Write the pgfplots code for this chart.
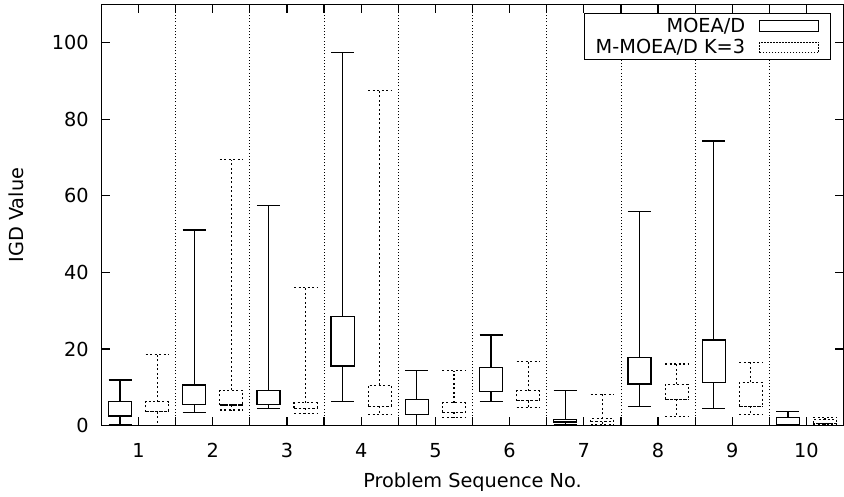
\documentclass[border=0pt]{standalone}
\usepackage{pgfplots}
\pgfplotsset{compat=1.18}
\usepgfplotslibrary{statistics}
\usepackage{fontspec}
\setmainfont{DejaVu Sans}
\newcommand{\fs}{\fontsize{19.3pt}{23pt}\selectfont}
\newcommand{\boxA}[5]{\addplot[forget plot, black, solid, line width=1.3pt, boxplot prepared={draw position=#1, lower whisker=#2, lower quartile=#3, median=#3, upper quartile=#4, upper whisker=#5, box extend=0.62, whisker extend=0.62}] coordinates {};}
\newcommand{\boxB}[5]{\addplot[forget plot, black, line width=1.1pt, dash pattern=on 2pt off 2.5pt, boxplot prepared={draw position=#1, lower whisker=#2, lower quartile=#3, median=#3, upper quartile=#4, upper whisker=#5, box extend=0.62, whisker extend=0.62}] coordinates {};}
\begin{document}
\begin{tikzpicture}
\begin{axis}[
  scale only axis, width=742pt, height=421.3pt,
  xmin=0, xmax=20, ymin=0, ymax=110,
  boxplot/draw direction=y,
  xtick={1,3,...,19}, xticklabels={1,2,3,4,5,6,7,8,9,10},
  minor xtick={2,4,...,18},
  ytick={0,20,...,100},
  major tick length=9pt, minor tick length=9pt,
  tick align=inside,
  tick style={black, line width=1.2pt},
  minor tick style={black, line width=1.2pt},
  axis line style={black, line width=1.3pt},
  xminorgrids=true,
  minor x grid style={black, line width=0.8pt, dash pattern=on 1pt off 2.2pt},
  /pgf/number format/assume math mode=true,
  tick label style={font=\fs},
  xticklabel style={inner sep=0pt, yshift=-17.6pt},
  yticklabel style={inner sep=0pt, xshift=-12.7pt},
  xlabel={Problem Sequence No.},
  ylabel={IGD Value},
  label style={font=\fs},
  xlabel style={at={(axis description cs:0.5,0)}, anchor=north, inner sep=0pt, yshift=-47.4pt},
  ylabel style={at={(axis description cs:0,0.5)}, anchor=north, inner sep=0pt, yshift=93.2pt},
  legend plot pos=right,
  legend style={at={(1,1)}, anchor=north east, xshift=-12.5pt, yshift=-8.6pt,
    draw=black, line width=1.2pt, fill=white, inner xsep=11pt, inner ysep=4.5pt,
    font=\fs, cells={anchor=east}, nodes={inner sep=0pt}, row sep=5.5pt},
]
\addlegendimage{legend image code/.code={\path (0pt,0pt); \draw[black, solid, line width=1.2pt] (14pt,-5.3pt) rectangle (73pt,5.3pt);}}
\addlegendentry{MOEA/D}
\addlegendimage{legend image code/.code={\path (0pt,0pt); \draw[black, line width=1pt, dash pattern=on 1.3pt off 1.7pt] (14pt,-5.3pt) rectangle (73pt,5.3pt);}}
\addlegendentry{M-MOEA/D K=3}
% group 1
\boxA{0.5}{0.2}{2.5}{6.3}{11.9}
\boxB{1.5}{0.0}{3.6}{6.3}{18.6}
% group 2
\boxA{2.5}{3.5}{5.6}{10.6}{51.1}
\boxB{3.5}{4.1}{5.4}{9.3}{69.4}
% group 3
\boxA{4.5}{4.5}{5.6}{9.1}{57.5}
\boxB{5.5}{3.3}{4.6}{6.0}{36.1}
% group 4
\boxA{6.5}{6.3}{15.6}{28.5}{97.4}
\boxB{7.5}{3.0}{5.1}{10.6}{87.5}
% group 5
\boxA{8.5}{0.0}{3.0}{6.8}{14.4}
\boxB{9.5}{2.1}{3.5}{6.0}{14.3}
% group 6
\boxA{10.5}{6.3}{8.9}{15.2}{23.7}
\boxB{11.5}{4.7}{6.5}{9.1}{16.7}
% group 7
\boxA{12.5}{0.4}{1.0}{1.7}{9.1}
\boxB{13.5}{0.4}{1.0}{1.8}{8.2}
% group 8
\boxA{14.5}{5.1}{10.9}{17.8}{55.9}
\boxB{15.5}{2.5}{6.9}{10.8}{16.1}
% group 9
\boxA{16.5}{4.4}{11.3}{22.4}{74.3}
\boxB{17.5}{2.9}{5.1}{11.3}{16.6}
% group 10
\boxA{18.5}{0.1}{0.4}{2.1}{3.7}
\boxB{19.5}{0.2}{0.6}{1.6}{2.2}
\end{axis}
\pgfresetboundingbox
\path ([shift={(-101.5pt,-71.3pt)}]current axis.south west) rectangle ([shift={(0.5pt,4.4pt)}]current axis.north east);
\end{tikzpicture}
\end{document}
